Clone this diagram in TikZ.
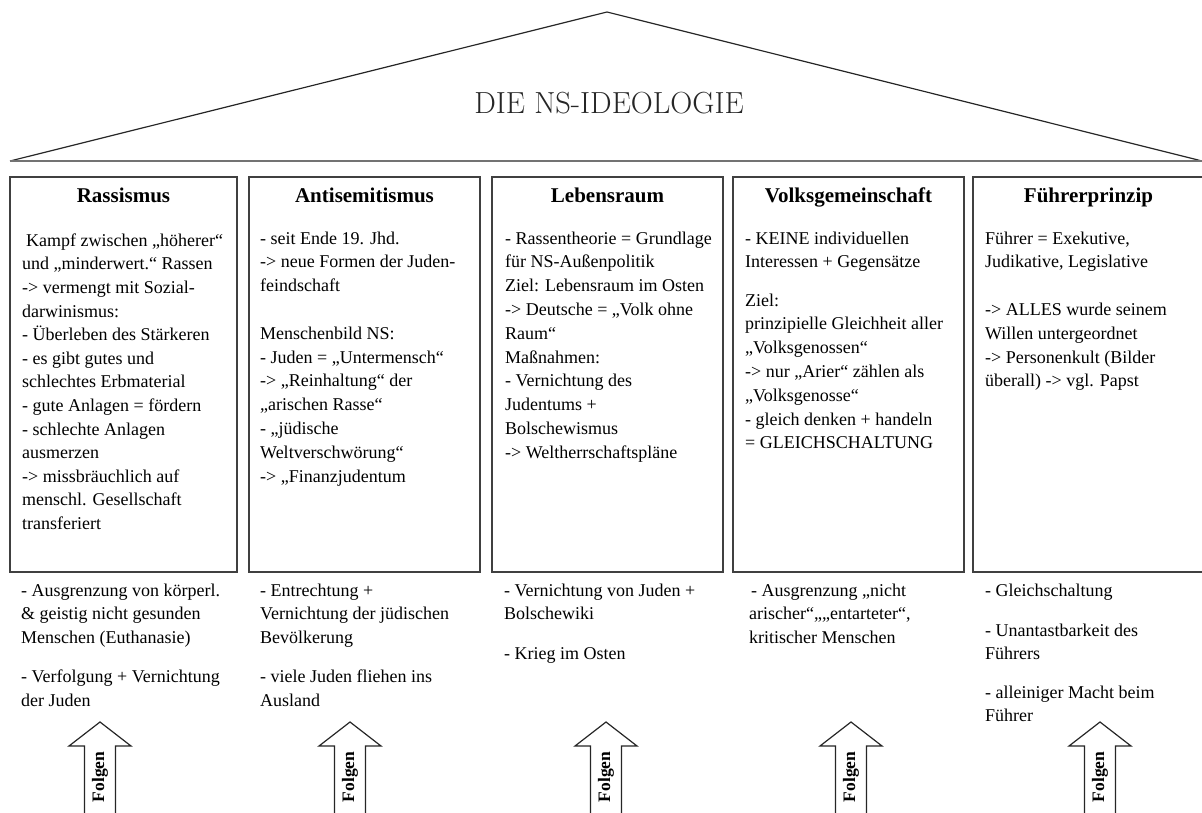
\documentclass[tikz,border=0pt]{standalone}
\usepackage{fontspec}
\newfontfamily\timesfont{Liberation Serif}
\usepackage{tikz}

\tikzset{
  saeule/.style={draw=black!75, line width=1.3pt, minimum height=395pt, inner sep=0pt},
  kopf/.style={anchor=base, inner sep=0pt, font=\timesfont\bfseries\fontsize{21}{24}\selectfont},
  inhalt/.style={anchor=north west, align=left, inner sep=0pt,
    font=\timesfont\fontsize{18}{23.8}\selectfont, execute at begin node=\strut},
  folge/.style={rotate=90, inner sep=0pt, font=\timesfont\bfseries\fontsize{17.5}{20}\selectfont},
  pfeil/.style={draw=black!85, line width=1.2pt, fill=white, line join=miter},
}

\begin{document}
\begin{tikzpicture}[x=1pt,y=-1pt]
    \useasboundingbox (0,0) rectangle (1202,813);
    % height of the first line above its baseline (0.7 of the line skip)
    \def\ob{16.66}

    % The roof with the title.
    \coordinate (spitze) at (607,12);
    \coordinate (links) at (10,161);
    \coordinate (rechts) at (1202,161);
    \draw[black!85, line width=1.2pt] (links) -- (spitze) -- (rechts);
    \draw[black!55, line width=2.6pt] (links) -- (rechts);
    \node[text=black!85, font=\fontsize{30.5}{32}\selectfont] (titel) at (609,103) {DIE NS-IDEOLOGIE};

    % The five pillars with their headings.
    \foreach \name/\mx/\breite/\kopftext in {ras/123.5/227/Rassismus, anti/364.5/231/Antisemitismus,
        leb/607.5/231/Lebensraum, volk/848.5/231/Volksgemeinschaft, fuehr/1088.5/231/Führerprinzip} {
      \node[saeule, minimum width=\breite pt] (\name) at (\mx,374.5) {};
      \node[kopf] (\name-kopf) at (\mx,203) {\kopftext};
    }

    % Text inside the pillars.
    \node[inhalt, font=\timesfont\fontsize{18}{23.6}\selectfont] (ras-text) at (22,{250-16.52}) {\hspace{4pt}Kampf zwischen „höherer“\\
      und „minderwert.“ Rassen\\ -> vermengt mit Sozial-\\ darwinismus:\\
      - Überleben des Stärkeren\\ - es gibt gutes und\\ schlechtes Erbmaterial\\
      - gute Anlagen = fördern\\ - schlechte Anlagen\\ ausmerzen\\
      -> missbräuchlich auf\\ menschl. Gesellschaft\\ transferiert};
    \node[inhalt] (anti-text) at (260,{248-\ob}) {- seit Ende 19. Jhd.\\
      -> neue Formen der Juden-\\ feindschaft\\[23.8pt] Menschenbild NS:\\
      - Juden = „Untermensch“\\ -> „Reinhaltung“ der\\ „arischen Rasse“\\
      - „jüdische\\ Weltverschwörung“\\ -> „Finanzjudentum};
    \node[inhalt] (leb-text) at (505,{248-\ob}) {- Rassentheorie = Grundlage\\
      für NS-Außenpolitik\\ Ziel: Lebensraum im Osten\\ -> Deutsche = „Volk ohne\\
      Raum“\\ Maßnahmen:\\ - Vernichtung des\\ Judentums +\\ Bolschewismus\\
      -> Weltherrschaftspläne};
    \node[inhalt] (volk-text) at (745,{248-\ob}) {- KEINE individuellen\\
      Interessen + Gegensätze\\[14.4pt] Ziel:\\ prinzipielle Gleichheit aller\\
      „Volksgenossen“\\ -> nur „Arier“ zählen als\\ „Volksgenosse“\\
      - gleich denken + handeln\\ = GLEICHSCHALTUNG};
    \node[inhalt] (fuehr-text) at (985,{248-\ob}) {Führer = Exekutive,\\
      Judikative, Legislative\\[23.8pt] -> ALLES wurde seinem\\
      Willen untergeordnet\\ -> Personenkult (Bilder\\ überall) -> vgl. Papst};

    % Consequences below the pillars.
    \node[inhalt] (ras-folgen) at (21,{600-\ob}) {- Ausgrenzung von körperl.\\
      \& geistig nicht gesunden\\ Menschen (Euthanasie)\\[15.2pt]
      - Verfolgung + Vernichtung\\ der Juden};
    \node[inhalt] (anti-folgen) at (260,{600-\ob}) {- Entrechtung +\\
      Vernichtung der jüdischen\\ Bevölkerung\\[15.2pt]
      - viele Juden fliehen ins\\ Ausland};
    \node[inhalt] (leb-folgen) at (504,{600-\ob}) {- Vernichtung von Juden +\\
      Bolschewiki\\[15.4pt] - Krieg im Osten};
    \node[inhalt] (volk-folgen) at (749,{600-\ob}) {\hspace{2pt}- Ausgrenzung „nicht\\
      arischer“„„entarteter“,\\ kritischer Menschen};
    \node[inhalt] (fuehr-folgen) at (985,{600-\ob}) {- Gleichschaltung\\[16.2pt]
      - Unantastbarkeit des\\ Führers\\[14.4pt] - alleiniger Macht beim\\ Führer};

    % Block arrows "Folgen".
    \foreach \nr/\ax in {1/100, 2/350, 3/606, 4/851, 5/1100} {
      \draw[pfeil] (\ax-15.5,816) -- (\ax-15.5,746) -- (\ax-31,746) -- (\ax,722)
        -- (\ax+31,746) -- (\ax+15.5,746) -- (\ax+15.5,816);
      \node[folge] (folge\nr) at (\ax,777) {Folgen};
    }
\end{tikzpicture}
\end{document}
